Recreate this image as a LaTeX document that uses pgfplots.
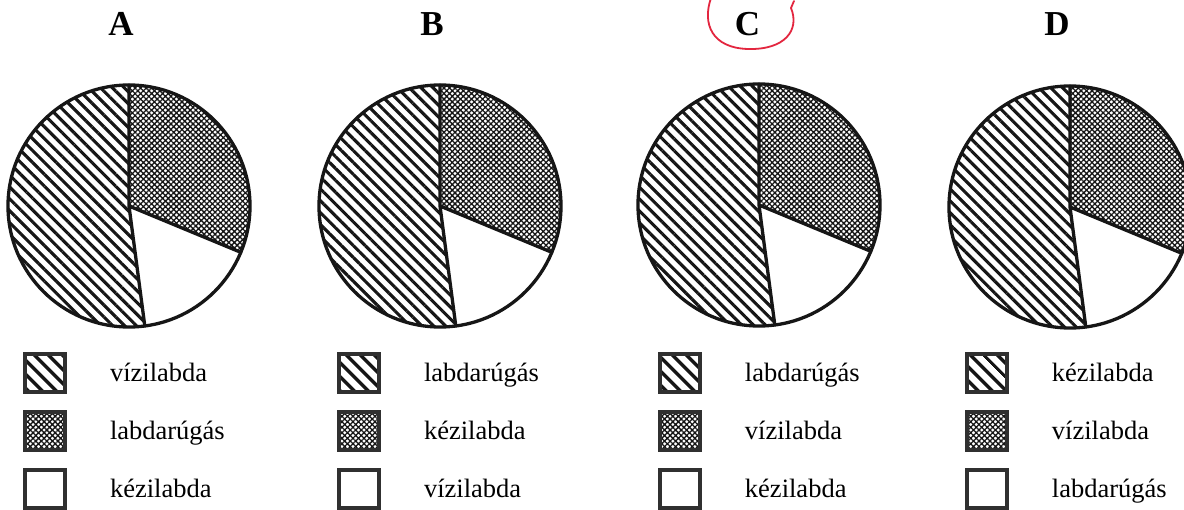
\documentclass[border=0pt]{standalone}
\usepackage{pgfplots}
\pgfplotsset{compat=1.18}
\usepackage{fontspec}
\setmainfont{Liberation Serif}
\usetikzlibrary{patterns.meta}

\definecolor{pen}{HTML}{161616}
\definecolor{boxgray}{HTML}{303030}
\definecolor{markred}{HTML}{E3263F}

% data: number of students per sport slice (hatched, cross-hatched, white)
\def\vH{125}
\def\vC{75}
\def\vW{40}
\def\R{121pt}

\tikzset{
  hatchP/.style={pattern={Lines[angle=-45,distance=8.4pt,line width=3.1pt]},pattern color=pen},
  crossP/.style={pattern={Hatch[angle=45,distance=3.9pt,line width=1.3pt]},pattern color=pen},
  hatchL/.style={pattern={Lines[angle=-45,distance=10.5pt,line width=3.8pt]},pattern color=pen},
  crossL/.style={pattern={Hatch[angle=45,distance=3.9pt,line width=1.3pt]},pattern color=pen},
}

\pgfplotsset{
  pieaxis/.style={
    width=242pt,height=242pt,scale only axis,
    xmin=-1,xmax=1,ymin=-1,ymax=1,
    hide axis,clip=false,anchor=center,
    title style={font=\fontsize{35}{40}\selectfont\bfseries,anchor=base},
    legend cell align=left,
    legend image code/.code={\draw[line width=4pt,draw=boxgray,##1] (0pt,-19pt) rectangle (40pt,19pt);},
    legend style={anchor=north west,draw=none,fill=none,inner sep=0pt,outer sep=0pt,
      font=\fontsize{26.5}{30}\selectfont,row sep=16pt,column sep=43pt,
      nodes={inner sep=0pt,outer sep=0pt}},
  }
}

\pgfmathsetmacro\tot{\vH+\vC+\vW}
\pgfmathsetmacro\aC{90-360*(\vC/\tot)}
\pgfmathsetmacro\aW{\aC-360*(\vW/\tot)}

\newcommand\drawpie{%
  \fill[crossP] (axis cs:0,0) -- ++(90:\R) arc[start angle=90,end angle=\aC,radius=\R] -- cycle;
  \fill[hatchP] (axis cs:0,0) -- ++(\aW:\R) arc[start angle=\aW,end angle=-270,radius=\R] -- cycle;
  \draw[pen,line width=3.3pt,line cap=round] (axis cs:0,0) -- ++(90:\R) (axis cs:0,0) -- ++(\aC:\R) (axis cs:0,0) -- ++(\aW:\R);
  \draw[pen,line width=3.3pt] (axis cs:0,0) circle[radius=\R];
  \addlegendimage{hatchL}
  \addlegendimage{crossL}
  \addlegendimage{fill=white}
}

\begin{document}
\begin{tikzpicture}
\path[use as bounding box] (0pt,0pt) rectangle (1184pt,-510pt);
\clip (0pt,0pt) rectangle (1184pt,-510pt);
\fill[white] (0pt,0pt) rectangle (1184pt,-510pt);

% A
\begin{axis}[pieaxis,at={(129pt,-206pt)},title={A},
  title style={at={(axis cs:-0.066,1.36)}},
  legend style={at={(axis cs:-0.876,-1.207)}}]
  \drawpie
  \legend{vízilabda,labdarúgás,kézilabda}
\end{axis}

% B
\begin{axis}[pieaxis,at={(440pt,-206pt)},title={B},
  title style={at={(axis cs:-0.066,1.36)}},
  legend style={at={(axis cs:-0.851,-1.207)}}]
  \drawpie
  \legend{labdarúgás,kézilabda,vízilabda}
\end{axis}

% C
\begin{axis}[pieaxis,at={(759pt,-205pt)},title={C},
  title style={at={(axis cs:-0.095,1.352)}},
  legend style={at={(axis cs:-0.835,-1.215)}}]
  \drawpie
  \legend{labdarúgás,vízilabda,kézilabda}
\end{axis}

% D
\begin{axis}[pieaxis,at={(1070pt,-207pt)},title={D},
  title style={at={(axis cs:-0.107,1.368)}},
  legend style={at={(axis cs:-0.868,-1.199)}}]
  \drawpie
  \legend{kézilabda,vízilabda,labdarúgás}
\end{axis}

% hand-drawn red mark around C
\draw[markred,line width=1.8pt,line cap=round,line join=round]
  (711pt,2pt) .. controls (702pt,-24pt) and (712pt,-48pt) .. (748pt,-49pt)
  .. controls (785pt,-50pt) and (800pt,-30pt) .. (791pt,-8pt) -- (794pt,-1pt);
\end{tikzpicture}
\end{document}
